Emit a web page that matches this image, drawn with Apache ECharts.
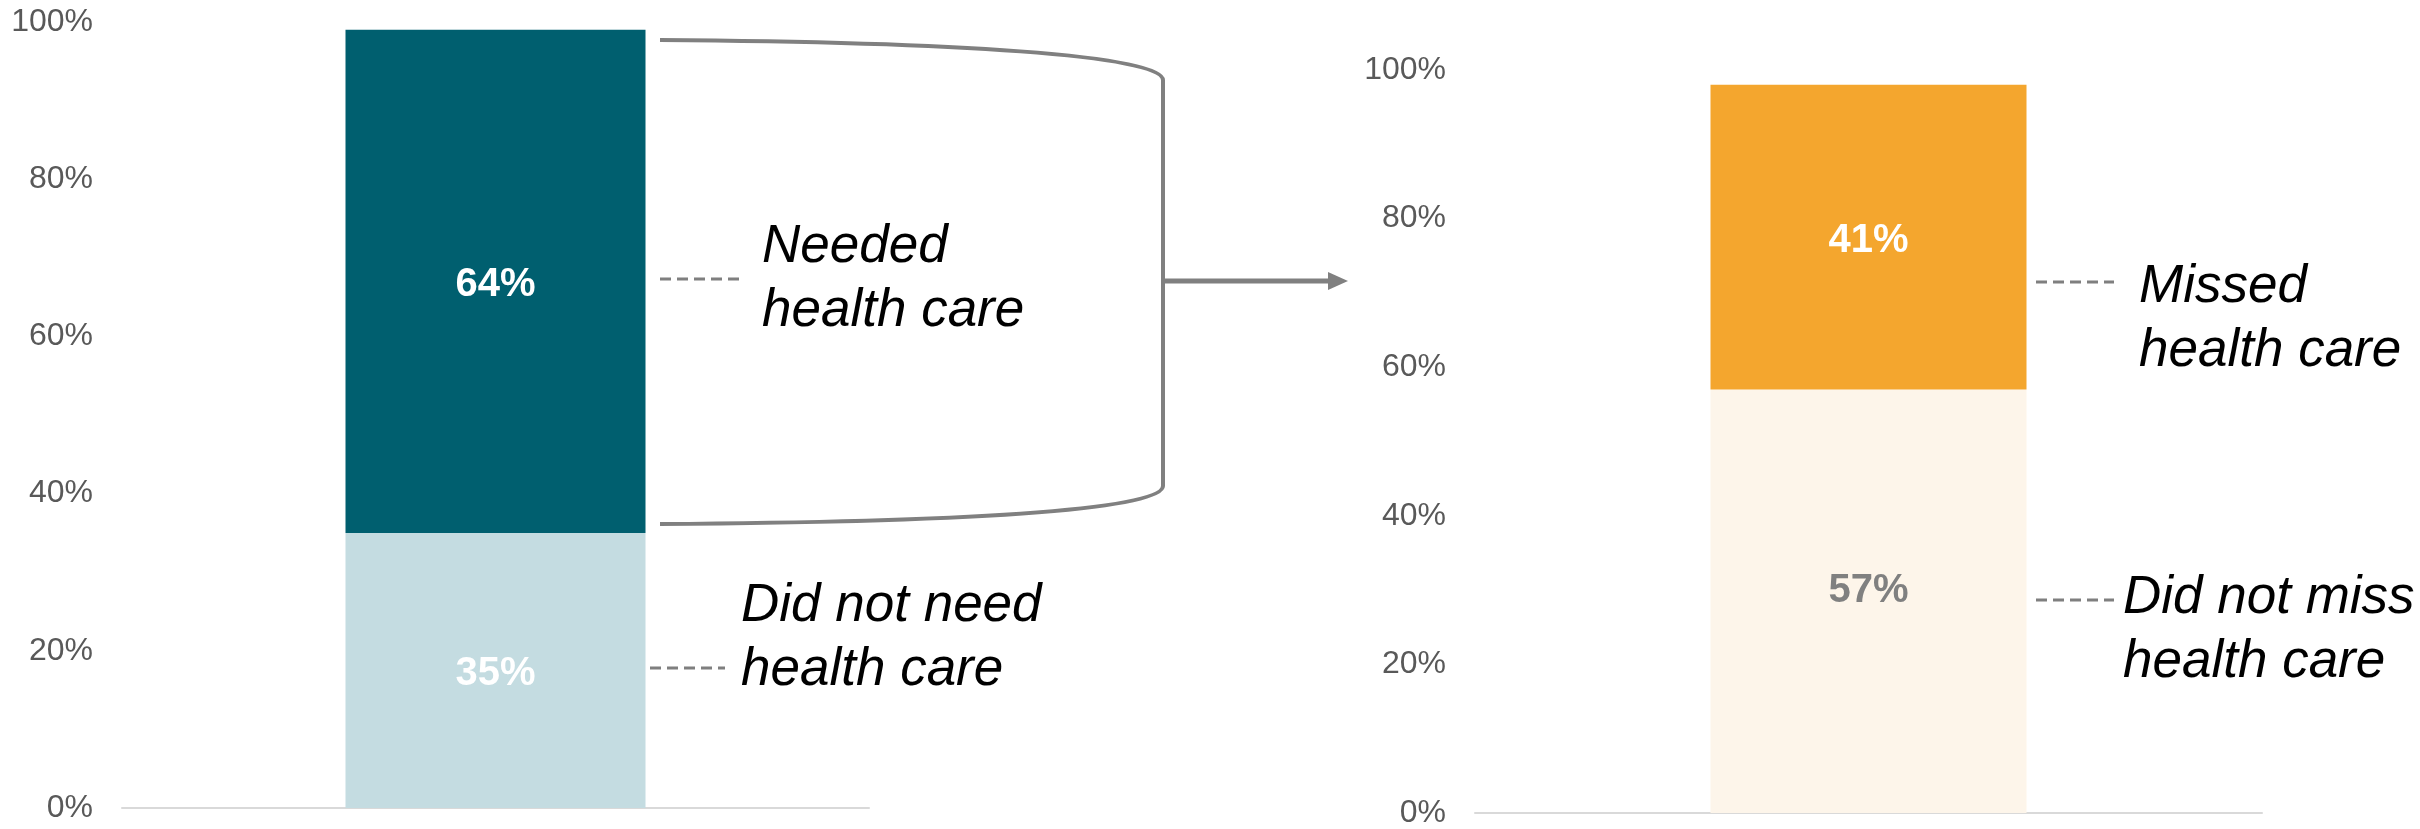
<!DOCTYPE html>
<html>
<head>
<meta charset="utf-8">
<script src="https://cdn.jsdelivr.net/npm/echarts@6/dist/echarts.min.js"></script>
<style>
html,body{margin:0;padding:0;background:#fff;}
#c{width:2420px;height:829px;}
</style>
</head>
<body>
<div id="c"></div>
<script>
// ---- data ----
const categories = ['All adults'];
const needSeriesNames = ['Did not need health care', 'Needed health care'];
const didNotNeed = [35];
const needed = [64];
const missSeriesNames = ['Did not miss health care', 'Missed health care'];
const didNotMiss = [57];
const missed = [41];
const yTickValues = [0, 20, 40, 60, 80, 100];
const annotationTexts = ['Needed\nhealth care', 'Did not need\nhealth care', 'Missed\nhealth care', 'Did not miss\nhealth care'];

const FONT = '"Liberation Sans", Arial, sans-serif';
const chart = echarts.init(document.getElementById('c'), null, {renderer: 'canvas'});

function yAxis(gridIndex) {
  return {
    type: 'value', gridIndex: gridIndex, min: yTickValues[0], max: yTickValues[yTickValues.length - 1], interval: 20,
    axisLine: {show: false}, axisTick: {show: false}, splitLine: {show: false},
    axisLabel: {formatter: '{value}%', color: '#595959', fontSize: 32, fontFamily: FONT, margin: 29, padding: [4, 0, 0, 0]}
  };
}
function xAxis(gridIndex) {
  return {
    type: 'category', gridIndex: gridIndex, data: categories,
    axisLine: {show: true, lineStyle: {color: '#D9D9D9', width: 2}},
    axisTick: {show: false}, axisLabel: {show: false}
  };
}
function barLabel(color, offset) {
  return {show: true, position: 'inside', formatter: '{c}%', color: color, fontSize: 40, fontWeight: 'bold', fontFamily: FONT, offset: offset || [0, 4]};
}

const dash = {stroke: '#7F7F7F', lineWidth: 3, lineDash: [11, 6]};
const bracket = {stroke: '#808080', lineWidth: 4, fill: null};
const annFont = 'italic 53px ' + FONT;

chart.setOption({
  animation: false,
  backgroundColor: '#ffffff',
  grid: [
    {left: 122, right: 1551, top: 22, bottom: 21},
    {left: 1475, right: 158, top: 70, bottom: 13}
  ],
  xAxis: [xAxis(0), xAxis(1)],
  yAxis: [yAxis(0), yAxis(1)],
  series: [
    {name: needSeriesNames[0], type: 'bar', stack: 'a', xAxisIndex: 0, yAxisIndex: 0, barWidth: 300, data: didNotNeed,
     itemStyle: {color: '#C4DCE1'}, label: barLabel('#ffffff')},
    {name: needSeriesNames[1], type: 'bar', stack: 'a', xAxisIndex: 0, yAxisIndex: 0, barWidth: 300, data: needed,
     itemStyle: {color: '#005F6F'}, label: barLabel('#ffffff')},
    {name: missSeriesNames[0], type: 'bar', stack: 'b', xAxisIndex: 1, yAxisIndex: 1, barWidth: 316, data: didNotMiss,
     itemStyle: {color: '#FDF5EA'}, label: barLabel('#808080', [0, -10])},
    {name: missSeriesNames[1], type: 'bar', stack: 'b', xAxisIndex: 1, yAxisIndex: 1, barWidth: 316, data: missed,
     itemStyle: {color: '#F4A62E'}, label: barLabel('#ffffff')}
  ],
  graphic: [
    // bracket
    {type: 'bezierCurve', shape: {x1: 660, y1: 40, cpx1: 950, cpy1: 42, cpx2: 1163, cpy2: 55, x2: 1163, y2: 80}, style: bracket},
    {type: 'line', shape: {x1: 1163, y1: 80, x2: 1163, y2: 486}, style: bracket},
    {type: 'bezierCurve', shape: {x1: 1163, y1: 486, cpx1: 1163, cpy1: 511, cpx2: 950, cpy2: 522, x2: 660, y2: 524}, style: bracket},
    // arrow
    {type: 'line', shape: {x1: 1163, y1: 281, x2: 1332, y2: 281}, style: {stroke: '#808080', lineWidth: 5}},
    {type: 'polygon', shape: {points: [[1328, 272], [1348, 281], [1328, 290]]}, style: {fill: '#808080'}},
    // leaders
    {type: 'line', shape: {x1: 660, y1: 279, x2: 739, y2: 279}, style: dash},
    {type: 'line', shape: {x1: 650, y1: 668, x2: 725, y2: 668}, style: dash},
    {type: 'line', shape: {x1: 2036, y1: 282, x2: 2114, y2: 282}, style: dash},
    {type: 'line', shape: {x1: 2036, y1: 600, x2: 2114, y2: 600}, style: dash},
    // annotation texts
    {type: 'text', x: 762, y: 279, style: {text: annotationTexts[0], font: annFont, lineHeight: 64, fill: '#000', textVerticalAlign: 'middle'}},
    {type: 'text', x: 741, y: 638, style: {text: annotationTexts[1], font: annFont, lineHeight: 64, fill: '#000', textVerticalAlign: 'middle'}},
    {type: 'text', x: 2139, y: 319, style: {text: annotationTexts[2], font: annFont, lineHeight: 64, fill: '#000', textVerticalAlign: 'middle'}},
    {type: 'text', x: 2123, y: 630, style: {text: annotationTexts[3], font: annFont, lineHeight: 64, fill: '#000', textVerticalAlign: 'middle'}}
  ]
});
</script>
</body>
</html>
